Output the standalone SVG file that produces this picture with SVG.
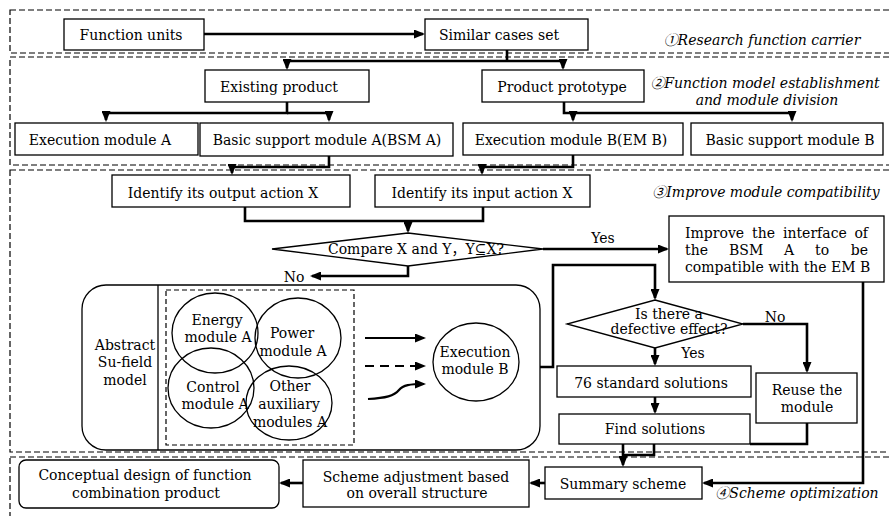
<svg xmlns="http://www.w3.org/2000/svg" width="889" height="516" viewBox="0 0 889 516">
<style>
text{font-family:"DejaVu Serif","Noto Sans CJK SC",serif;font-size:14px;fill:#000;text-anchor:middle}
.it{font-style:italic}
.st{text-anchor:start}
.en{text-anchor:end}
.box{fill:#fff;stroke:#000;stroke-width:1.3}
.region{fill:none;stroke:#000;stroke-width:1.2;stroke-dasharray:6,3}
.con{fill:none;stroke:#000;stroke-width:2.6}
.thin{fill:none;stroke:#000;stroke-width:2.2}
.circ{fill:none;stroke:#000;stroke-width:1.3}
</style>
<defs>
<marker id="ah" markerUnits="userSpaceOnUse" markerWidth="11" markerHeight="9" refX="9" refY="4.5" orient="auto">
<path d="M0,0 L11,4.5 L0,9 z" fill="#000"/>
</marker>
</defs>
<rect width="889" height="516" fill="#fff"/>
<g id="regions">
<rect class="region" x="10" y="10" width="900" height="43"/>
<rect class="region" x="10" y="57" width="900" height="108"/>
<rect class="region" x="10" y="170" width="900" height="282"/>
<rect class="region" x="10" y="457" width="900" height="80"/>
<text class="it" x="762" y="45">①Research function carrier</text>
<text class="it" x="765" y="88">②Function model establishment</text>
<text class="it" x="767" y="105">and module division</text>
<text class="it" x="766" y="197">③Improve module compatibility</text>
<text class="it" x="797" y="498">④Scheme optimization</text>
</g>
<g id="connectors">
<path class="con" d="M204,34 H423" marker-end="url(#ah)"/>
<path class="con" d="M507,50 V61"/>
<path class="con" d="M507,61 H287 V68" marker-end="url(#ah)"/>
<path class="con" d="M507,61 H563 V68" marker-end="url(#ah)"/>
<path class="con" d="M287,102 V113 H106 V120" marker-end="url(#ah)"/>
<path class="con" d="M287,113 H329 V120" marker-end="url(#ah)"/>
<path class="con" d="M564,102 V113 H792 V120" marker-end="url(#ah)"/>
<path class="con" d="M573,113 V120" marker-end="url(#ah)"/>
<path class="con" d="M329,156 V167 H232 V173" marker-end="url(#ah)"/>
<path class="con" d="M573,155 V167 H482 V173" marker-end="url(#ah)"/>
<path class="con" d="M245,207 V221 H483 V207"/>
<path class="con" d="M408,221 V231" marker-end="url(#ah)"/>
<path class="con" d="M543,249 H667" marker-end="url(#ah)"/>
<path class="con" d="M408,266 V276 H312" marker-end="url(#ah)"/>
<path class="con" d="M540,367 H553 V265 H655 V298" marker-end="url(#ah)"/>
<path class="con" d="M743,324 H807 V371" marker-end="url(#ah)"/>
<path class="con" d="M655,348 V364" marker-end="url(#ah)"/>
<path class="con" d="M655,397 V412" marker-end="url(#ah)"/>
<path class="con" d="M807,423 V444 H750"/>
<path class="con" d="M654,444 V455 H623"/>
<path class="con" d="M623,444 V465" marker-end="url(#ah)"/>
<path class="con" d="M863,282 V483 H704" marker-end="url(#ah)"/>
<path class="con" d="M545,483 H531" marker-end="url(#ah)"/>
<path class="con" d="M303,483 H281" marker-end="url(#ah)"/>
<text x="603" y="243">Yes</text>
<text x="294" y="282">No</text>
<text x="775" y="322">No</text>
<text x="693" y="358">Yes</text>
</g>
<g id="function-units"><rect class="box" x="64" y="19" width="140" height="31"/><text x="131" y="40">Function units</text></g>
<g id="similar-cases"><rect class="box" x="425" y="19" width="163" height="31"/><text x="499" y="40">Similar cases set</text></g>
<g id="existing-product"><rect class="box" x="205" y="70" width="164" height="32"/><text x="279" y="92">Existing product</text></g>
<g id="product-prototype"><rect class="box" x="482" y="70" width="162" height="32"/><text x="562" y="92">Product prototype</text></g>
<g id="execution-a"><rect class="box" x="15" y="123" width="183" height="32"/><text x="100" y="145">Execution module A</text></g>
<g id="bsm-a"><rect class="box" x="200" y="123" width="253" height="33"/><text x="327" y="145">Basic support module A(BSM A)</text></g>
<g id="em-b"><rect class="box" x="463" y="123" width="220" height="32"/><text x="571" y="145">Execution module B(EM B)</text></g>
<g id="bsm-b"><rect class="box" x="691" y="123" width="192" height="32"/><text x="790" y="145">Basic support module B</text></g>
<g id="identify-output"><rect class="box" x="112" y="175" width="238" height="32"/><text x="223" y="198">Identify its output action X</text></g>
<g id="identify-input"><rect class="box" x="375" y="175" width="215" height="32"/><text x="482" y="198">Identify its input action X</text></g>
<g id="compare"><polygon class="box" points="408,233 543,249 408,266 272,249"/><text x="416" y="254">Compare X and Y，Y⊆X?</text></g>
<g id="improve"><rect class="box" x="669" y="216" width="215" height="66"/>
<text class="st" x="685" y="238">Improve</text><text class="st" x="752" y="238">the</text><text class="st" x="783" y="238">interface</text><text class="en" x="868" y="238">of</text>
<text class="st" x="685" y="255">the</text><text class="st" x="729" y="255">BSM</text><text class="st" x="784" y="255">A</text><text class="st" x="815" y="255">to</text><text class="en" x="868" y="255">be</text>
<text class="st" x="685" y="272">compatible with the EM B</text></g>
<g id="su-field">
<rect class="box" x="82" y="285" width="458" height="165" rx="24"/>
<line x1="158" y1="285" x2="158" y2="450" stroke="#000" stroke-width="1.3"/>
<text x="125" y="350">Abstract</text><text x="125" y="367">Su-field</text><text x="125" y="385">model</text>
<rect x="166" y="290" width="188" height="155" fill="none" stroke="#000" stroke-width="1.2" stroke-dasharray="5,3"/>
<ellipse class="circ" cx="215" cy="333" rx="43" ry="40"/>
<ellipse class="circ" cx="298" cy="338" rx="43" ry="40"/>
<ellipse class="circ" cx="211" cy="388" rx="43" ry="40"/>
<ellipse class="circ" cx="289" cy="403" rx="43" ry="37"/>
<text x="217" y="325">Energy</text><text x="218" y="342">module A</text>
<text x="292" y="338">Power</text><text x="293" y="356">module A</text>
<text x="213" y="392">Control</text><text x="215" y="409">module A</text>
<text x="290" y="391">Other</text><text x="289" y="409">auxiliary</text><text x="290" y="427">modules A</text>
<path class="thin" d="M365,338 H424" marker-end="url(#ah)"/>
<path class="thin" d="M365,366 H424" stroke-dasharray="9,6" marker-end="url(#ah)"/>
<path class="thin" d="M368,399 C386,398 394,396 399,390 C403,385 410,384 424,384" marker-end="url(#ah)"/>
<ellipse class="circ" cx="476" cy="362" rx="43" ry="39"/>
<text x="475" y="357">Execution</text><text x="475" y="374">module B</text>
</g>
<g id="defective"><polygon class="box" points="655,300 743,324 655,348 567,324"/><text x="669" y="319">Is there a</text><text x="669" y="334">defective effect?</text></g>
<g id="standard-76"><rect class="box" x="557" y="366" width="194" height="31"/><text x="651" y="388">76 standard solutions</text></g>
<g id="reuse"><rect class="box" x="756" y="373" width="101" height="50"/><text x="807" y="395">Reuse the</text><text x="807" y="412">module</text></g>
<g id="find-solutions"><rect class="box" x="559" y="414" width="191" height="30"/><text x="655" y="434">Find solutions</text></g>
<g id="summary"><rect class="box" x="545" y="467" width="157" height="32"/><text x="623" y="489">Summary scheme</text></g>
<g id="scheme-adjustment"><rect class="box" x="303" y="460" width="226" height="47"/><text x="416" y="482">Scheme adjustment based</text><text x="417" y="498">on overall structure</text></g>
<g id="conceptual"><rect class="box" x="19" y="460" width="260" height="48" rx="7"/><text x="145" y="480">Conceptual design of function</text><text x="146" y="498">combination product</text></g>
</svg>
